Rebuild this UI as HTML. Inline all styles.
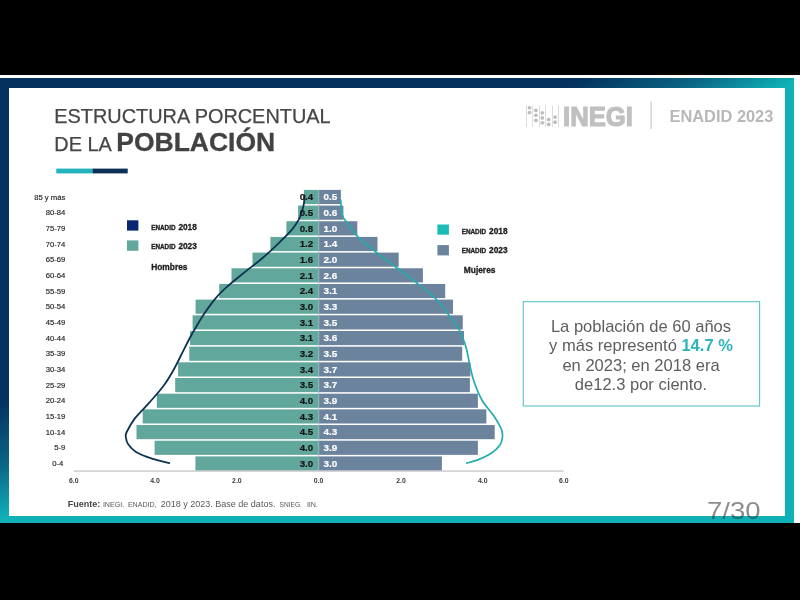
<!DOCTYPE html>
<html lang="es"><head><meta charset="utf-8"><title>Estructura porcentual de la población</title>
<style>
html,body{margin:0;padding:0;background:#000;}
body{width:800px;height:600px;position:relative;overflow:hidden;font-family:"Liberation Sans",sans-serif;}
#white{position:absolute;left:0;top:74.8px;width:800px;height:448px;background:#fbfdfe;}
#frame{position:absolute;left:0;top:77.6px;width:794.4px;height:445.2px;background:linear-gradient(151deg,#04315e 36.5%,#0b6685 44%,#0fb1b7 50%);}
#inner{position:absolute;left:8.7px;top:10.5px;right:9.4px;bottom:7.2px;background:#fff;}
svg{position:absolute;left:0;top:0;}
text{font-family:"Liberation Sans",sans-serif;}
.age{font-size:7.7px;fill:#242424;stroke:#242424;stroke-width:0.15;}
.lv{font-size:9.7px;font-weight:bold;fill:#141414;stroke:#141414;stroke-width:0.2;}
.rv{font-size:9.9px;font-weight:bold;fill:#fff;stroke:#fff;stroke-width:0.2;}
.ax{font-size:6.9px;font-weight:bold;fill:#3c3c3c;}
.lg{font-size:8.3px;font-weight:bold;fill:#1e1e1e;stroke:#1e1e1e;stroke-width:0.3;}
.sc{font-size:6.35px;}
.lg2{font-size:8.4px;font-weight:bold;fill:#1e1e1e;stroke:#1e1e1e;stroke-width:0.3;}
.inegi{font-size:28px;font-weight:bold;fill:#c0c0c0;stroke:#c0c0c0;stroke-width:1.2;}
.enadid{font-size:16.4px;font-weight:bold;fill:#b8b8b8;}
.t1{font-size:19.9px;fill:#464646;stroke:#464646;stroke-width:0.25;}
.t2{font-size:26.5px;font-weight:bold;fill:#424242;stroke:#424242;stroke-width:0.3;}
.src{font-size:9px;fill:#585858;}
.src .b{font-weight:bold;fill:#444;}
.sc2{font-size:7.1px;}
.sc3{font-size:6.6px;}
.bx{font-size:16.55px;fill:#5e5e5e;}
.hl{font-weight:bold;fill:#2cb4bd;}
.pg{font-size:24px;fill:rgba(50,50,50,0.56);}
</style></head><body>
<div id="white"></div>
<div id="frame"><div id="inner"></div></div>
<svg width="800" height="600" viewBox="0 0 800 600">
<rect x="303.9" y="189.90" width="14.90" height="14.15" fill="#62a79b"/>
<rect x="318.8" y="189.90" width="22.10" height="14.15" fill="#6c839d"/>
<rect x="298.1" y="205.58" width="20.70" height="14.15" fill="#62a79b"/>
<rect x="318.8" y="205.58" width="24.60" height="14.15" fill="#6c839d"/>
<rect x="286.4" y="221.25" width="32.40" height="14.15" fill="#62a79b"/>
<rect x="318.8" y="221.25" width="38.50" height="14.15" fill="#6c839d"/>
<rect x="270.4" y="236.93" width="48.40" height="14.15" fill="#62a79b"/>
<rect x="318.8" y="236.93" width="58.70" height="14.15" fill="#6c839d"/>
<rect x="252.5" y="252.60" width="66.30" height="14.15" fill="#62a79b"/>
<rect x="318.8" y="252.60" width="79.90" height="14.15" fill="#6c839d"/>
<rect x="231.5" y="268.28" width="87.30" height="14.15" fill="#62a79b"/>
<rect x="318.8" y="268.28" width="104.10" height="14.15" fill="#6c839d"/>
<rect x="219.2" y="283.96" width="99.60" height="14.15" fill="#62a79b"/>
<rect x="318.8" y="283.96" width="126.40" height="14.15" fill="#6c839d"/>
<rect x="195.6" y="299.63" width="123.20" height="14.15" fill="#62a79b"/>
<rect x="318.8" y="299.63" width="134.20" height="14.15" fill="#6c839d"/>
<rect x="192.6" y="315.31" width="126.20" height="14.15" fill="#62a79b"/>
<rect x="318.8" y="315.31" width="143.95" height="14.15" fill="#6c839d"/>
<rect x="190.1" y="330.98" width="128.70" height="14.15" fill="#62a79b"/>
<rect x="318.8" y="330.98" width="145.20" height="14.15" fill="#6c839d"/>
<rect x="189.3" y="346.66" width="129.50" height="14.15" fill="#62a79b"/>
<rect x="318.8" y="346.66" width="143.40" height="14.15" fill="#6c839d"/>
<rect x="178.1" y="362.34" width="140.70" height="14.15" fill="#62a79b"/>
<rect x="318.8" y="362.34" width="151.60" height="14.15" fill="#6c839d"/>
<rect x="175.2" y="378.01" width="143.60" height="14.15" fill="#62a79b"/>
<rect x="318.8" y="378.01" width="151.10" height="14.15" fill="#6c839d"/>
<rect x="156.8" y="393.69" width="162.00" height="14.15" fill="#62a79b"/>
<rect x="318.8" y="393.69" width="159.10" height="14.15" fill="#6c839d"/>
<rect x="142.7" y="409.36" width="176.10" height="14.15" fill="#62a79b"/>
<rect x="318.8" y="409.36" width="167.60" height="14.15" fill="#6c839d"/>
<rect x="136.5" y="425.04" width="182.30" height="14.15" fill="#62a79b"/>
<rect x="318.8" y="425.04" width="175.90" height="14.15" fill="#6c839d"/>
<rect x="154.6" y="440.72" width="164.20" height="14.15" fill="#62a79b"/>
<rect x="318.8" y="440.72" width="159.10" height="14.15" fill="#6c839d"/>
<rect x="195.4" y="456.39" width="123.40" height="14.15" fill="#62a79b"/>
<rect x="318.8" y="456.39" width="123.10" height="14.15" fill="#6c839d"/>
<rect x="318.40000000000003" y="189.9" width="0.8" height="280.64" fill="#9fb9c0"/>
<rect x="73.6" y="470.5" width="489.8" height="1.1" fill="#b9b9b9"/>
<path d="M304.6,195.5 C304.5,196.4 304.4,199.1 304.2,201.0 C304.0,202.9 303.9,204.3 303.2,207.0 C302.5,209.7 301.2,214.2 300.0,217.0 C298.8,219.8 297.6,221.6 296.0,224.0 C294.4,226.4 293.7,227.8 290.6,231.2 C287.5,234.6 282.3,239.7 277.5,244.3 C272.7,248.9 267.4,253.9 261.7,258.7 C256.0,263.5 249.1,268.6 243.4,273.2 C237.7,277.8 232.2,282.1 227.6,286.3 C223.0,290.5 219.7,293.5 215.8,298.1 C211.9,302.7 207.3,309.1 204.0,313.9 C200.7,318.7 198.2,323.5 196.1,327.0 C194.0,330.5 193.4,331.3 191.4,335.0 C189.4,338.7 186.8,343.8 184.0,349.3 C181.2,354.8 177.9,362.0 174.6,368.0 C171.3,374.0 168.2,379.5 164.0,385.3 C159.8,391.1 154.2,397.1 149.3,402.6 C144.4,408.2 138.5,413.7 134.7,418.6 C130.9,423.5 128.2,428.9 126.7,432.0 C125.2,435.1 125.7,435.3 125.9,437.3 C126.1,439.3 126.3,441.6 128.0,444.0 C129.7,446.4 132.0,449.6 136.0,452.0 C140.0,454.4 146.4,456.8 152.0,458.6 C157.6,460.5 166.4,462.4 169.3,463.1" fill="none" stroke="#0d3352" stroke-width="1.8" stroke-linecap="round"/>
<path d="M340.7,200.0 C340.8,201.0 340.9,204.0 341.0,206.0 C341.1,208.0 341.2,210.1 341.6,212.0 C342.0,213.9 342.6,216.0 343.3,217.5 C344.0,219.0 344.4,219.1 345.8,221.0 C347.2,222.9 349.9,226.8 351.7,229.2 C353.5,231.6 354.8,233.5 356.7,235.6 C358.6,237.7 360.4,239.2 363.3,241.7 C366.2,244.2 370.6,247.7 374.2,250.6 C377.8,253.5 381.2,256.1 385.0,259.0 C388.8,261.9 392.5,264.5 396.7,267.7 C400.9,270.9 406.5,275.3 410.0,278.0 C413.5,280.7 414.2,281.0 417.6,283.7 C421.1,286.4 426.8,290.7 430.7,294.2 C434.6,297.7 437.7,300.5 441.2,304.7 C444.7,308.9 448.8,315.2 451.7,319.1 C454.6,323.0 456.8,326.0 458.3,328.3 C459.8,330.6 459.3,329.6 460.6,332.7 C461.9,335.8 464.3,341.3 465.9,346.7 C467.4,352.1 468.6,359.5 469.9,365.3 C471.2,371.1 471.9,375.5 473.9,381.3 C475.9,387.1 478.6,394.2 481.9,400.0 C485.2,405.8 490.6,411.1 493.9,416.0 C497.1,420.9 500.0,425.8 501.4,429.3 C502.8,432.9 502.7,434.6 502.4,437.3 C502.1,440.0 501.7,442.6 499.8,445.3 C497.9,448.0 494.9,450.9 491.2,453.3 C487.5,455.7 482.0,458.3 477.9,459.9 C473.8,461.5 468.6,462.6 466.7,463.1" fill="none" stroke="#25aaae" stroke-width="1.7" stroke-linecap="round"/>
<text x="65.4" y="199.60" text-anchor="end" class="age">85 y más</text>
<text x="313.1" y="200.35" text-anchor="end" class="lv">0.4</text>
<text x="323.4" y="200.35" class="rv">0.5</text>
<text x="65.4" y="215.28" text-anchor="end" class="age">80-84</text>
<text x="313.1" y="216.03" text-anchor="end" class="lv">0.5</text>
<text x="323.4" y="216.03" class="rv">0.6</text>
<text x="65.4" y="230.95" text-anchor="end" class="age">75-79</text>
<text x="313.1" y="231.70" text-anchor="end" class="lv">0.8</text>
<text x="323.4" y="231.70" class="rv">1.0</text>
<text x="65.4" y="246.63" text-anchor="end" class="age">70-74</text>
<text x="313.1" y="247.38" text-anchor="end" class="lv">1.2</text>
<text x="323.4" y="247.38" class="rv">1.4</text>
<text x="65.4" y="262.30" text-anchor="end" class="age">65-69</text>
<text x="313.1" y="263.05" text-anchor="end" class="lv">1.6</text>
<text x="323.4" y="263.05" class="rv">2.0</text>
<text x="65.4" y="277.98" text-anchor="end" class="age">60-64</text>
<text x="313.1" y="278.73" text-anchor="end" class="lv">2.1</text>
<text x="323.4" y="278.73" class="rv">2.6</text>
<text x="65.4" y="293.66" text-anchor="end" class="age">55-59</text>
<text x="313.1" y="294.41" text-anchor="end" class="lv">2.4</text>
<text x="323.4" y="294.41" class="rv">3.1</text>
<text x="65.4" y="309.33" text-anchor="end" class="age">50-54</text>
<text x="313.1" y="310.08" text-anchor="end" class="lv">3.0</text>
<text x="323.4" y="310.08" class="rv">3.3</text>
<text x="65.4" y="325.01" text-anchor="end" class="age">45-49</text>
<text x="313.1" y="325.76" text-anchor="end" class="lv">3.1</text>
<text x="323.4" y="325.76" class="rv">3.5</text>
<text x="65.4" y="340.68" text-anchor="end" class="age">40-44</text>
<text x="313.1" y="341.43" text-anchor="end" class="lv">3.1</text>
<text x="323.4" y="341.43" class="rv">3.6</text>
<text x="65.4" y="356.36" text-anchor="end" class="age">35-39</text>
<text x="313.1" y="357.11" text-anchor="end" class="lv">3.2</text>
<text x="323.4" y="357.11" class="rv">3.5</text>
<text x="65.4" y="372.04" text-anchor="end" class="age">30-34</text>
<text x="313.1" y="372.79" text-anchor="end" class="lv">3.4</text>
<text x="323.4" y="372.79" class="rv">3.7</text>
<text x="65.4" y="387.71" text-anchor="end" class="age">25-29</text>
<text x="313.1" y="388.46" text-anchor="end" class="lv">3.5</text>
<text x="323.4" y="388.46" class="rv">3.7</text>
<text x="65.4" y="403.39" text-anchor="end" class="age">20-24</text>
<text x="313.1" y="404.14" text-anchor="end" class="lv">4.0</text>
<text x="323.4" y="404.14" class="rv">3.9</text>
<text x="65.4" y="419.06" text-anchor="end" class="age">15-19</text>
<text x="313.1" y="419.81" text-anchor="end" class="lv">4.3</text>
<text x="323.4" y="419.81" class="rv">4.1</text>
<text x="65.4" y="434.74" text-anchor="end" class="age">10-14</text>
<text x="313.1" y="435.49" text-anchor="end" class="lv">4.5</text>
<text x="323.4" y="435.49" class="rv">4.3</text>
<text x="65.4" y="450.42" text-anchor="end" class="age">5-9</text>
<text x="313.1" y="451.17" text-anchor="end" class="lv">4.0</text>
<text x="323.4" y="451.17" class="rv">3.9</text>
<text x="63.4" y="466.09" text-anchor="end" class="age">0-4</text>
<text x="313.1" y="466.84" text-anchor="end" class="lv">3.0</text>
<text x="323.4" y="466.84" class="rv">3.0</text>
<text x="73.7" y="483.1" text-anchor="middle" class="ax">6.0</text>
<text x="155" y="483.1" text-anchor="middle" class="ax">4.0</text>
<text x="236.9" y="483.1" text-anchor="middle" class="ax">2.0</text>
<text x="318.6" y="483.1" text-anchor="middle" class="ax">0.0</text>
<text x="401" y="483.1" text-anchor="middle" class="ax">2.0</text>
<text x="482.7" y="483.1" text-anchor="middle" class="ax">4.0</text>
<text x="563.9" y="483.1" text-anchor="middle" class="ax">6.0</text>
<rect x="127" y="220.3" width="11.4" height="10.3" fill="#0a2670"/>
<rect x="127" y="240.4" width="11.4" height="10.4" fill="#62a79b"/>
<text y="230" class="lg"><tspan x="151.2" class="sc">ENADID</tspan><tspan x="178.4">2018</tspan></text>
<text y="248.8" class="lg"><tspan x="151.2" class="sc">ENADID</tspan><tspan x="178.4">2023</tspan></text>
<text x="151.2" y="269.9" class="lg2">Hombres</text>
<rect x="437.4" y="224.5" width="11.5" height="10.2" fill="#1bbcb8"/>
<rect x="437.4" y="245.1" width="11.5" height="10.3" fill="#6c839d"/>
<text y="233.9" class="lg"><tspan x="461.7" class="sc">ENADID</tspan><tspan x="489.1">2018</tspan></text>
<text y="252.9" class="lg"><tspan x="461.7" class="sc">ENADID</tspan><tspan x="489.1">2023</tspan></text>
<text x="463.8" y="273.4" class="lg2">Mujeres</text>
<rect x="526.05" y="105.5" width="0.7" height="21.4" fill="#cdcdcd"/>
<rect x="532.40" y="105.5" width="0.7" height="21.4" fill="#cdcdcd"/>
<rect x="539.05" y="105.5" width="0.7" height="21.4" fill="#cdcdcd"/>
<rect x="545.35" y="105.5" width="0.7" height="21.4" fill="#cdcdcd"/>
<rect x="551.95" y="105.5" width="0.7" height="21.4" fill="#cdcdcd"/>
<rect x="558.05" y="105.5" width="0.7" height="21.4" fill="#cdcdcd"/>
<circle cx="529.5" cy="107.75" r="1.85" fill="#bcbcbc"/>
<circle cx="529.5" cy="112.6" r="1.85" fill="#bcbcbc"/>
<circle cx="535.9" cy="110.4" r="1.85" fill="#bcbcbc"/>
<circle cx="535.9" cy="115.25" r="1.85" fill="#bcbcbc"/>
<circle cx="535.9" cy="120.4" r="1.85" fill="#bcbcbc"/>
<circle cx="542.3" cy="112.85" r="1.85" fill="#bcbcbc"/>
<circle cx="542.3" cy="117.9" r="1.85" fill="#bcbcbc"/>
<circle cx="542.3" cy="122.75" r="1.85" fill="#bcbcbc"/>
<circle cx="548.7" cy="119.5" r="1.85" fill="#bcbcbc"/>
<circle cx="548.7" cy="124.4" r="1.85" fill="#bcbcbc"/>
<circle cx="555.1" cy="117.1" r="1.85" fill="#bcbcbc"/>
<circle cx="555.1" cy="122.15" r="1.85" fill="#bcbcbc"/>
<text x="563" y="126.1" class="inegi" textLength="70" lengthAdjust="spacingAndGlyphs">INEGI</text>
<rect x="650.4" y="101.5" width="1.4" height="27.5" fill="#cfcfcf"/>
<text x="669.5" y="122.3" class="enadid">ENADID 2023</text>
<text x="54.3" y="122.7" class="t1">ESTRUCTURA PORCENTUAL</text>
<text x="54.3" y="151.3" class="t1">DE LA <tspan class="t2">POBLACIÓN</tspan></text>
<rect x="56.3" y="168.6" width="36.2" height="4.8" fill="#22b3bd"/>
<rect x="92.5" y="168.6" width="35.2" height="4.8" fill="#0c2f55"/>
<text y="507" class="src"><tspan x="67.7" class="b">Fuente:</tspan><tspan x="102.9" class="sc2">INEGI.</tspan><tspan x="127.9" class="sc2">ENADID,</tspan><tspan x="160.8">2018 y 2023. Base de datos.</tspan><tspan x="279.6" class="sc3">SNIEG.</tspan><tspan x="306.9" class="sc2">IIN.</tspan></text>
<rect x="523.3" y="301.7" width="236.3" height="104.3" fill="none" stroke="#5cc4c7" stroke-width="1.1"/>
<text x="641" y="331.7" text-anchor="middle" class="bx">La población de 60 años</text>
<text x="641" y="351.3" text-anchor="middle" class="bx">y más representó <tspan class="hl">14.7 %</tspan></text>
<text x="641" y="371.2" text-anchor="middle" class="bx">en 2023; en 2018 era</text>
<text x="641" y="390.2" text-anchor="middle" class="bx">de12.3 por ciento.</text>
<text x="707" y="519.3" class="pg" textLength="53.6" lengthAdjust="spacingAndGlyphs">7/30</text>
</svg>
</body></html>
